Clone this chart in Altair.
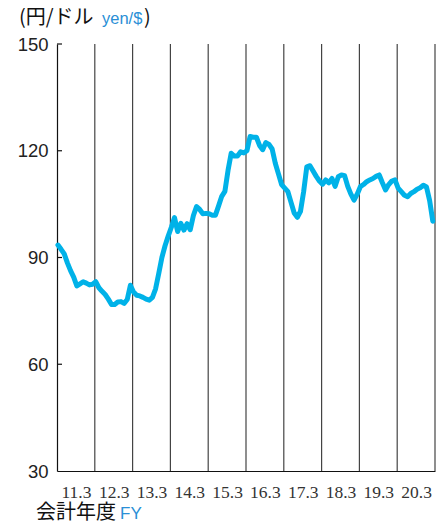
import altair as alt
import pandas as pd

# Monthly yen/dollar rate, April..March of each fiscal year
fy2010 = [93.5, 92.3, 91.0, 88.5, 86.3, 84.5, 82.0, 82.6, 83.2, 82.8, 82.3, 82.5]
fy2011 = [83.2, 81.5, 80.5, 79.6, 78.3, 76.8, 76.8, 77.5, 77.6, 77.1, 78.2, 82.2]
fy2012 = [80.3, 79.4, 79.2, 78.8, 78.3, 78.0, 78.8, 81.2, 85.5, 90.0, 93.3, 96.0]
fy2013 = [98.5, 101.2, 97.3, 99.6, 97.7, 99.5, 97.8, 101.8, 104.3, 103.5, 102.3, 102.4]
fy2014 = [102.3, 101.9, 101.9, 104.5, 107.2, 108.6, 114.5, 119.3, 118.5, 118.5, 119.7, 119.4]
fy2015 = [120.0, 124.0, 123.8, 123.8, 121.5, 120.3, 122.3, 121.8, 120.5, 116.5, 113.5, 110.5]
fy2016 = [109.5, 108.5, 105.5, 102.5, 101.3, 103.0, 108.5, 115.5, 115.8, 114.3, 112.8, 111.5]
fy2017 = [110.6, 111.8, 111.0, 112.2, 110.0, 112.7, 113.2, 113.0, 110.0, 107.8, 106.1, 107.8]
fy2018 = [109.9, 110.5, 111.3, 111.8, 112.2, 112.8, 113.2, 111.0, 109.0, 110.5, 111.5, 111.8]
fy2019 = [109.5, 108.5, 107.5, 107.1, 108.0, 108.5, 109.2, 109.6, 110.3, 109.8, 106.0, 100.2]

fy_labels = ["11.3", "12.3", "13.3", "14.3", "15.3", "16.3", "17.3", "18.3", "19.3", "20.3"]
y_ticks = [30, 60, 90, 120, 150]

series = fy2010 + fy2011 + fy2012 + fy2013 + fy2014 + fy2015 + fy2016 + fy2017 + fy2018 + fy2019
df = pd.DataFrame({"t": [(i + 0.3) / 12 for i in range(len(series))], "rate": series})
grid_df = pd.DataFrame({"t": list(range(1, 11))})
tick_df = pd.DataFrame({"v": y_ticks[1:]})

BLUE_LINE = "#00b2e8"
BLUE_TEXT = "#2a8fd6"
JP = "Noto Sans CJK JP"

xscale = alt.Scale(domain=[0, 10], nice=False, zero=False)
yscale = alt.Scale(domain=[30, 150], nice=False, zero=False)

label_expr = "{" + ",".join(f"'{i + 0.5}':'{l}'" for i, l in enumerate(fy_labels)) + "}[toString(datum.value)]"

grid = alt.Chart(grid_df).mark_rule(color="#444", strokeWidth=1.2).encode(
    x=alt.X("t:Q", scale=xscale)
)

ticks = alt.Chart(tick_df).mark_rule(color="#111", strokeWidth=1.2).encode(
    y=alt.Y("v:Q", scale=yscale),
    x=alt.value(0),
    x2=alt.value(5),
)

line = alt.Chart(df).mark_line(
    color=BLUE_LINE, strokeWidth=5, strokeJoin="round", strokeCap="round"
).encode(
    x=alt.X(
        "t:Q",
        scale=xscale,
        axis=alt.Axis(
            values=[i + 0.5 for i in range(10)],
            labelExpr=label_expr,
            grid=False,
            ticks=False,
            tickSize=0,
            domainColor="#111",
            domainWidth=1.2,
            labelFont="Liberation Sans Narrow",
            labelFontSize=17.5,
            labelColor="#333",
            labelBaseline="alphabetic",
            labelPadding=26,
            labelOverlap=False,
            title=None,
        ),
    ),
    y=alt.Y(
        "rate:Q",
        scale=yscale,
        axis=alt.Axis(
            values=y_ticks,
            grid=False,
            ticks=False,
            tickSize=0,
            domainColor="#111",
            domainWidth=1.2,
            labelFont="Liberation Sans",
            labelFontSize=18.5,
            labelColor="#222",
            labelPadding=9,
            title=None,
        ),
    ),
)

def txt(s, x, y, size, color, font):
    return alt.Chart(pd.DataFrame({"s": [s]})).mark_text(
        align="left", baseline="alphabetic", fontSize=size, color=color, font=font
    ).encode(text="s:N", x=alt.value(x), y=alt.value(y))

texts = [
    txt("(円/ドル", -38, -20, 20, "#111", JP),
    txt("yen/$", 45, -20, 16.5, BLUE_TEXT, "Liberation Sans"),
    txt(")", 87, -20, 20, "#111", JP),
    txt("会計年度", -21, 475, 20, "#111", JP),
    txt("FY", 63, 475, 17, BLUE_TEXT, "Liberation Sans"),
]

chart = alt.layer(grid, ticks, line, *texts).properties(
    width=378,
    height=427,
    padding={"left": 49, "top": 36, "right": 3, "bottom": 53},
    autosize=alt.AutoSizeParams(type="none"),
).configure_view(stroke=None)

chart.save("out.html", embed_options={"renderer": "svg", "actions": False})
